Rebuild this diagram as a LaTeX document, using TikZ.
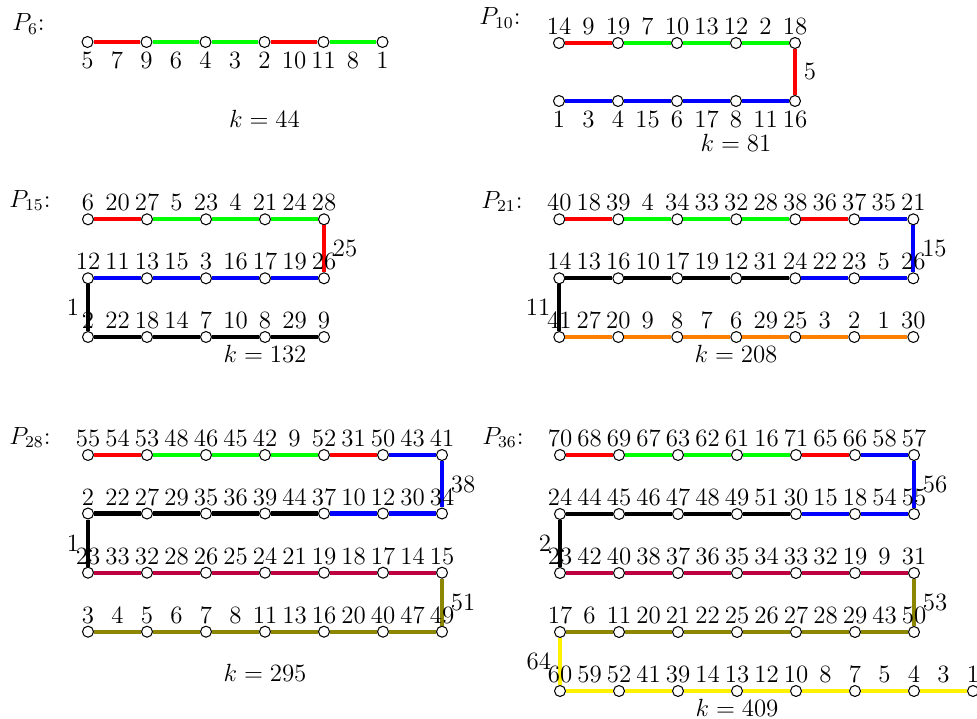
\documentclass[tikz,border=0pt]{standalone}
\tikzset{
  vtx/.style={circle, draw=black, fill=white, line width=0.5pt, inner sep=0pt, minimum size=5.3pt},
  edg/.style={line width=2pt},
  lab/.style={anchor=base, inner sep=0pt},
  elab/.style={text=black},
  ttl/.style={anchor=base west, inner sep=0pt},
  klab/.style={anchor=base, inner sep=0pt},
}
% \prow{name}{x0}{y}{n}
\newcommand{\prow}[4]{%
  \foreach \i in {1,...,#4} {\node[vtx] (#1-\i) at ({#2+(\i-1)*59},#3) {};}%
}
% \plabs{name}{x0}{y}{list}
\newcommand{\plabs}[4]{%
  \foreach \lbl [count=\i] in {#4} {\node[lab] (#1-l\i) at ({#2+(\i-1)*29.5},#3) {\lbl};}%
}
% \pedges{name}{colour list}
\newcommand{\pedges}[2]{%
  \foreach \ecol [count=\i] in {#2} {\pgfmathtruncatemacro{\nj}{\i+1}\draw[edg,color=\ecol] (#1-\i) -- (#1-\nj);}%
}
\begin{document}
\begin{tikzpicture}[x=0.0169492cm, y=-0.0169492cm, font=\fontsize{12}{14}\selectfont]
\useasboundingbox (0,0) rectangle (977,719);

% ---------- P6 ----------
\node[ttl] (t6) at (12,31) {$P_{6}$:};
\prow{a}{87.5}{42}{6}
\pedges{a}{red,green,green,red,green}
\plabs{a}{87.5}{68.5}{5,7,9,6,4,3,2,10,11,8,1}
\node[klab] (k6) at (264.5,127) {$k=44$};

% ---------- P10 ----------
\node[ttl] (t10) at (479,25) {$P_{10}$:};
\prow{b}{559}{43}{5}
\prow{bb}{559}{101}{5}
\pedges{b}{red,green,green,green}
\pedges{bb}{blue,blue,blue,blue}
\draw[edg,red] (b-5) -- node[right,elab] (b-e) {5} (bb-5);
\plabs{b}{559}{35}{14,9,19,7,10,13,12,2,18}
\plabs{bb}{559}{127}{1,3,4,15,6,17,8,11,16}
\node[klab] (k10) at (736,151) {$k=81$};

% ---------- P15 ----------
\node[ttl] (t15) at (9,207) {$P_{15}$:};
\prow{c}{88}{219.3}{5}
\prow{cc}{88}{278.3}{5}
\prow{ccc}{88}{337}{5}
\pedges{c}{red,green,green,green}
\pedges{cc}{blue,blue,blue,blue}
\pedges{ccc}{black,black,black,black}
\draw[edg,red] (c-5) -- node[right,elab] (c-e) {25} (cc-5);
\draw[edg,black] (cc-1) -- node[left,elab] (cc-e) {1} (ccc-1);
\plabs{c}{88}{210.8}{6,20,27,5,23,4,21,24,28}
\plabs{cc}{88}{269.8}{12,11,13,15,3,16,17,19,26}
\plabs{ccc}{88}{328.5}{2,22,18,14,7,10,8,29,9}
\node[klab] (k15) at (265,362) {$k=132$};

% ---------- P21 ----------
\node[ttl] (t21) at (481,208) {$P_{21}$:};
\prow{d}{559.3}{219.3}{7}
\prow{dd}{559.3}{278.3}{7}
\prow{ddd}{559.3}{337}{7}
\pedges{d}{red,green,green,green,red,blue}
\pedges{dd}{black,black,black,black,blue,blue}
\pedges{ddd}{orange,orange,orange,orange,orange,orange}
\draw[edg,blue] (d-7) -- node[right,elab] (d-e) {15} (dd-7);
\draw[edg,black] (dd-1) -- node[left,elab] (dd-e) {11} (ddd-1);
\plabs{d}{559.3}{210.8}{40,18,39,4,34,33,32,28,38,36,37,35,21}
\plabs{dd}{559.3}{269.8}{14,13,16,10,17,19,12,31,24,22,23,5,26}
\plabs{ddd}{559.3}{328.5}{41,27,20,9,8,7,6,29,25,3,2,1,30}
\node[klab] (k21) at (736,362) {$k=208$};

% ---------- P28 ----------
\node[ttl] (t28) at (9,444) {$P_{28}$:};
\prow{e}{88}{455}{7}
\prow{ee}{88}{513.5}{7}
\prow{eee}{88}{572.7}{7}
\prow{eeee}{88}{631.7}{7}
\pedges{e}{red,green,green,green,red,blue}
\pedges{ee}{black,black,black,black,blue,blue}
\pedges{eee}{purple,purple,purple,purple,purple,purple}
\pedges{eeee}{olive,olive,olive,olive,olive,olive}
\draw[edg,blue] (e-7) -- node[right,elab] (e-e) {38} (ee-7);
\draw[edg,black] (ee-1) -- node[left,elab] (ee-e) {1} (eee-1);
\draw[edg,olive] (eee-7) -- node[right,elab] (eee-e) {51} (eeee-7);
\plabs{e}{88}{446.5}{55,54,53,48,46,45,42,9,52,31,50,43,41}
\plabs{ee}{88}{505}{2,22,27,29,35,36,39,44,37,10,12,30,34}
\plabs{eee}{88}{564.2}{23,33,32,28,26,25,24,21,19,18,17,14,15}
\plabs{eeee}{88}{623.2}{3,4,5,6,7,8,11,13,16,20,40,47,49}
\node[klab] (k28) at (265,681) {$k=295$};

% ---------- P36 ----------
\node[ttl] (t36) at (482,444) {$P_{36}$:};
\prow{f}{560}{455}{7}
\prow{ff}{560}{514}{7}
\prow{fff}{560}{573}{7}
\prow{ffff}{560}{632}{7}
\prow{fffff}{560}{691}{8}
\pedges{f}{red,green,green,green,red,blue}
\pedges{ff}{black,black,black,black,blue,blue}
\pedges{fff}{purple,purple,purple,purple,purple,purple}
\pedges{ffff}{olive,olive,olive,olive,olive,olive}
\pedges{fffff}{yellow,yellow,yellow,yellow,yellow,yellow,yellow}
\draw[edg,blue] (f-7) -- node[right,elab] (f-e) {56} (ff-7);
\draw[edg,black] (ff-1) -- node[left,elab] (ff-e) {2} (fff-1);
\draw[edg,olive] (fff-7) -- node[right,elab] (fff-e) {53} (ffff-7);
\draw[edg,yellow] (ffff-1) -- node[left,elab] (ffff-e) {64} (fffff-1);
\plabs{f}{560}{446.5}{70,68,69,67,63,62,61,16,71,65,66,58,57}
\plabs{ff}{560}{505.5}{24,44,45,46,47,48,49,51,30,15,18,54,55}
\plabs{fff}{560}{564.5}{23,42,40,38,37,36,35,34,33,32,19,9,31}
\plabs{ffff}{560}{623.5}{17,6,11,20,21,22,25,26,27,28,29,43,50}
\plabs{fffff}{560}{682.5}{60,59,52,41,39,14,13,12,10,8,7,5,4,3,1}
\node[klab] (k36) at (737,716.5) {$k=409$};
\end{tikzpicture}
\end{document}
